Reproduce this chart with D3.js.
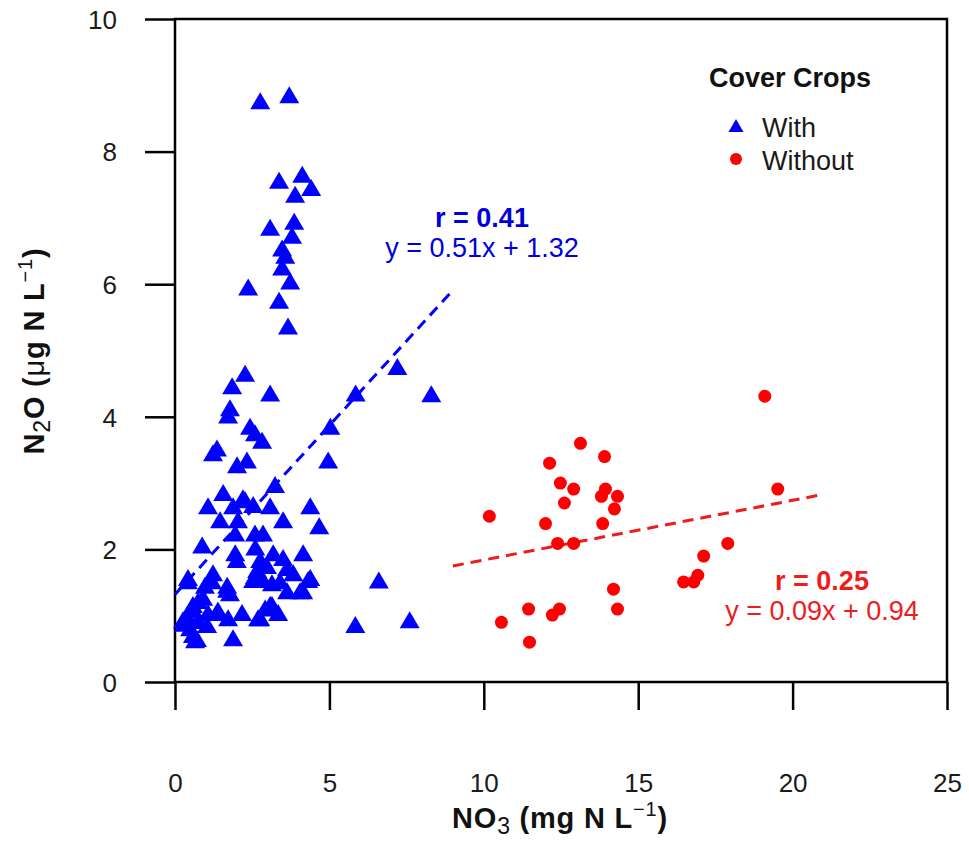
<!DOCTYPE html>
<html>
<head>
<meta charset="utf-8">
<script src="https://cdn.jsdelivr.net/npm/d3@7"></script>
<style>
  body { margin: 0; background: #fff; }
  text { font-family: "Liberation Sans", Arial, sans-serif; }
</style>
</head>
<body>
<div id="chart"></div>
<script>
var w = 969, h = 846;

// NO3 (x) and N2O (y) with cover crops
var withX = [2.76,3.70,3.37,4.12,4.41,3.89,3.86,3.08,3.79,3.47,3.57,3.47,3.73,2.37,3.37,3.66,
  2.27,1.85,3.08,5.85,7.2,8.3,1.78,1.72,2.43,2.59,2.82,5.03,1.36,1.23,2.33,2.01,4.96,3.24,1.56,
  1.07,1.88,2.2,2.53,3.08,4.38,1.46,2.04,3.5,4.67,1.95,2.59,2.85,0.88,2.27,2.6,
  1.95,2.0,2.76,3.18,3.5,4.15,2.66,2.98,3.63,3.83,4.31,2.53,2.85,3.14,3.63,4.15,3.40,4.38,4.05,
  0.42,1.23,1.2,1.69,1.78,0.91,0.58,1.36,1.72,2.17,3.14,3.34,2.76,0.26,0.49,0.58,0.71,1.88,0.75,1.04,
  5.84,6.6,7.6,
  0.42,1.69,0.97,0.75,0.39,1.07,1.39,2.69,0.65,2.92,2.59,0.6,0.3,3.08];
var withY = [8.73,8.82,7.53,7.62,7.42,7.32,6.91,6.82,6.70,6.51,6.40,6.22,6.01,5.92,5.72,5.33,
  4.62,4.43,4.32,4.32,4.72,4.31,4.10,3.99,3.82,3.72,3.61,3.82,3.49,3.42,3.31,3.24,3.31,2.94,2.82,
  2.62,2.62,2.74,2.64,2.62,2.62,2.41,2.41,2.41,2.32,2.21,2.21,2.21,2.03,2.71,2.0,
  1.91,1.81,1.81,1.91,1.84,1.91,1.66,1.72,1.69,1.61,1.51,1.51,1.51,1.46,1.34,1.34,1.49,1.54,1.34,
  1.49,1.61,1.49,1.36,1.31,1.24,1.13,1.01,0.93,1.01,1.13,1.01,0.93,0.90,0.78,0.68,0.62,0.63,0.89,0.83,
  0.83,1.5,0.9,
  1.54,1.42,1.42,1.19,0.96,1.01,1.05,0.93,0.6,1.08,1.57,1.05,0.85,1.13];

// without cover crops
var withoutX = [10.18,12.13,13.13,13.91,12.48,12.91,12.61,13.94,13.81,14.33,14.23,12.00,13.85,12.39,12.91,
  17.90,17.12,16.93,16.80,16.47,14.20,14.33,11.45,12.45,12.22,10.57,11.48,19.10,19.52];
var withoutY = [2.50,3.30,3.60,3.40,3.00,2.91,2.70,2.91,2.80,2.80,2.61,2.39,2.39,2.09,2.09,
  2.09,1.90,1.61,1.51,1.51,1.40,1.10,1.10,1.10,1.01,0.90,0.60,4.31,2.91];

// regression lines: slope, intercept, x range
var fitWith = {a: 0.51, b: 1.32, x0: 0, x1: 9};
var fitWithout = {a: 0.09, b: 0.94, x0: 9, x1: 21};

var xTicks = [0, 5, 10, 15, 20, 25];
var yTicks = [0, 2, 4, 6, 8, 10];

var pL = 175, pR = 947, pT = 19, pB = 682;

var x = d3.scaleLinear().domain([0, 25]).range([pL, pR]);
var y = d3.scaleLinear().domain([0, 10]).range([pB, pT]);

var svg = d3.select("#chart").append("svg")
    .attr("width", w)
    .attr("height", h);

// box
svg.append("rect")
    .attr("x", pL).attr("y", pT)
    .attr("width", pR - pL).attr("height", pB - pT)
    .attr("fill", "none").attr("stroke", "#000").attr("stroke-width", 2.5);

// axes
var xAxis = svg.append("g")
    .attr("transform", "translate(0," + pB + ")")
    .call(d3.axisBottom(x).tickValues(xTicks).tickSize(28).tickPadding(64).tickFormat(d3.format("d")));
var yAxis = svg.append("g")
    .attr("transform", "translate(" + pL + ",0)")
    .call(d3.axisLeft(y).tickValues(yTicks).tickSize(30).tickPadding(28).tickFormat(d3.format("d")));

[xAxis, yAxis].forEach(function(g) {
    g.select(".domain").remove();
    g.selectAll("line").attr("stroke", "#000").attr("stroke-width", 2.5);
    g.selectAll("text").attr("font-size", "26px").attr("fill", "#1a1a1a")
        .attr("font-family", "Liberation Sans, Arial, sans-serif");
});
yAxis.selectAll("text").attr("dy", "0.36em");

// regression lines
function fitLine(f, color) {
    svg.append("line")
        .attr("x1", x(f.x0)).attr("y1", y(f.a * f.x0 + f.b))
        .attr("x2", x(f.x1)).attr("y2", y(f.a * f.x1 + f.b))
        .attr("stroke", color).attr("stroke-width", 3)
        .attr("stroke-dasharray", "11,7");
}
fitLine(fitWith, "#0000ff");
fitLine(fitWithout, "#ee1c1c");

// points
var tri = "M0,-11L10,6L-10,6Z";
svg.append("g").selectAll("path")
    .data(d3.range(withX.length))
    .enter()
    .append("path")
    .attr("d", tri)
    .attr("transform", function(i) {
        return "translate(" + x(withX[i]) + "," + y(withY[i]) + ")";
    })
    .attr("fill", "#0000ff");

svg.append("g").selectAll("circle")
    .data(d3.range(withoutX.length))
    .enter()
    .append("circle")
    .attr("cx", function(i) { return x(withoutX[i]); })
    .attr("cy", function(i) { return y(withoutY[i]); })
    .attr("r", 6.5)
    .attr("fill", "#ff0000");

// annotations
function note(cx, by, color, r, eq) {
    svg.append("text").attr("x", cx).attr("y", by)
        .attr("text-anchor", "middle").attr("font-size", "27px")
        .attr("font-weight", "bold").attr("fill", color).text(r);
    svg.append("text").attr("x", cx).attr("y", by + 30)
        .attr("text-anchor", "middle").attr("font-size", "27px")
        .attr("fill", color).text(eq);
}
note(482, 227, "#0000dd", "r = 0.41", "y = 0.51x + 1.32");
note(822, 590, "#ee1c1c", "r = 0.25", "y = 0.09x + 0.94");

// legend
svg.append("text").attr("x", 790).attr("y", 87)
    .attr("text-anchor", "middle").attr("font-size", "27px").attr("font-weight", "bold")
    .attr("fill", "#111").text("Cover Crops");
svg.append("path").attr("d", "M0,-8L7.5,5L-7.5,5Z")
    .attr("transform", "translate(736,127)").attr("fill", "#0000ff");
svg.append("circle").attr("cx", 736).attr("cy", 159).attr("r", 6).attr("fill", "#ff0000");
svg.append("text").attr("x", 762).attr("y", 137).attr("font-size", "27px").attr("fill", "#1a1a1a").text("With");
svg.append("text").attr("x", 762).attr("y", 170).attr("font-size", "27px").attr("fill", "#1a1a1a").text("Without");

// axis titles
var xt = svg.append("text").attr("x", 560).attr("y", 828)
    .attr("text-anchor", "middle").attr("font-size", "29px").attr("font-weight", "bold")
    .attr("letter-spacing", "0.8px").attr("fill", "#111");
xt.append("tspan").text("NO");
xt.append("tspan").attr("font-size", "23px").attr("font-weight", "normal").attr("dy", 6).text("3");
xt.append("tspan").attr("dy", -6).text(" (mg N L");
xt.append("tspan").attr("font-size", "20px").attr("font-weight", "normal").attr("dy", -12).text("\u22121");
xt.append("tspan").attr("dy", 12).text(")");

var yt = svg.append("text").attr("transform", "translate(44,351) rotate(-90)")
    .attr("text-anchor", "middle").attr("font-size", "29px").attr("font-weight", "bold")
    .attr("letter-spacing", "0.8px").attr("fill", "#111");
yt.append("tspan").text("N");
yt.append("tspan").attr("font-size", "23px").attr("font-weight", "normal").attr("dy", 6).text("2");
yt.append("tspan").attr("dy", -6).text("O (");
yt.append("tspan").attr("font-weight", "normal").text("\u03bc");
yt.append("tspan").text("g N L");
yt.append("tspan").attr("font-size", "20px").attr("font-weight", "normal").attr("dy", -12).text("\u22121");
yt.append("tspan").attr("dy", 12).text(")");
</script>
</body>
</html>
